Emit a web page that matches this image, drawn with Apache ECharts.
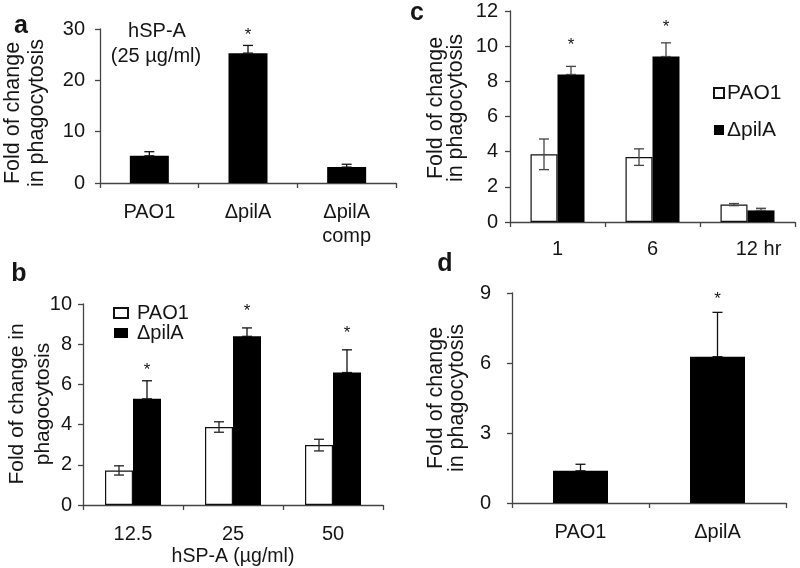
<!DOCTYPE html>
<html>
<head>
<meta charset="utf-8">
<script src="https://cdn.jsdelivr.net/npm/echarts@6/dist/echarts.min.js"></script>
<style>
  html, body { margin: 0; padding: 0; background: #fff; }
  #chart { width: 800px; height: 568px; }
</style>
</head>
<body>
<div id="chart"></div>
<script>
// ---------- data ----------
const catsA = ['PAO1', 'ΔpilA', 'ΔpilA\ncomp'];
const meanA = [5.3, 25.3, 3.1];
const errA = [0.8, 1.5, 0.55];
const starA = [null, 29.6, null];

const catsB = ['12.5', '25', '50'];
const pao1B = [1.72, 3.88, 2.98];
const pao1ErrB = [0.23, 0.26, 0.29];
const pilB = [5.28, 8.39, 6.59];
const pilErrB = [0.9, 0.42, 1.13];
const starB = [6.89, 9.82, 8.72];

const catsC = ['1', '6', '12 hr'];
const pao1C = [3.85, 3.69, 0.99];
const pao1ErrC = [0.87, 0.47, 0.06];
const pilC = [8.39, 9.41, 0.66];
const pilErrC = [0.46, 0.78, 0.12];
const starC = [10.3, 11.3, null];

const catsD = ['PAO1', 'ΔpilA'];
const meanD = [1.38, 6.27];
const errD = [0.28, 1.9];
const starD = [null, 8.88];

const ticksA = [0, 10, 20, 30];
const ticksB = [0, 2, 4, 6, 8, 10];
const ticksC = [0, 2, 4, 6, 8, 10, 12];
const ticksD = [0, 3, 6, 9];

// ---------- helpers ----------
const FONT = 'Liberation Sans, Arial, sans-serif';
const TXT = '#151515';
const AX = '#444';

function errData(mean, err, both) {
  return mean.map((m, i) => [i, both ? m - err[i] : m, m + err[i]]);
}
function starData(stars) {
  const out = [];
  stars.forEach((s, i) => { if (s != null) out.push([i, s]); });
  return out;
}
function errSeries(idx, data, offset, color) {
  return {
    type: 'custom', xAxisIndex: idx, yAxisIndex: idx, silent: true, z: 5,
    data: data,
    encode: { x: 0, y: [1, 2] },
    renderItem: function (params, api) {
      const c = api.value(0);
      const x = api.coord([c, 0])[0] + offset;
      const y1 = api.coord([c, api.value(1)])[1];
      const y2 = api.coord([c, api.value(2)])[1];
      const st = { stroke: color, lineWidth: 1.3 };
      const hw = 5;
      return {
        type: 'group', children: [
          { type: 'line', shape: { x1: x, y1: y1, x2: x, y2: y2 }, style: st },
          { type: 'line', shape: { x1: x - hw, y1: y2, x2: x + hw, y2: y2 }, style: st },
          { type: 'line', shape: { x1: x - hw, y1: y1, x2: x + hw, y2: y1 }, style: st }
        ]
      };
    }
  };
}
function starSeries(idx, data, offset) {
  return {
    type: 'custom', xAxisIndex: idx, yAxisIndex: idx, silent: true, z: 6,
    data: data,
    encode: { x: 0, y: 1 },
    renderItem: function (params, api) {
      const c = api.value(0);
      const p = api.coord([c, api.value(1)]);
      return {
        type: 'text', x: p[0] + offset, y: p[1] + 4,
        style: { text: '*', fontSize: 17, fontFamily: FONT, fill: TXT, align: 'center', verticalAlign: 'middle' }
      };
    }
  };
}
function yAx(idx, ticks, margin) {
  return {
    type: 'value', gridIndex: idx, min: ticks[0], max: ticks[ticks.length - 1],
    interval: ticks[1] - ticks[0],
    splitLine: { show: false },
    axisLine: { show: true, lineStyle: { color: AX, width: 1.3 } },
    axisTick: { show: true, length: 5, lineStyle: { color: AX, width: 1.3 } },
    axisLabel: { fontSize: 20, fontFamily: FONT, color: TXT, margin: margin }
  };
}
function xAx(idx, cats, extra) {
  return Object.assign({
    type: 'category', gridIndex: idx, data: cats,
    axisLine: { show: true, lineStyle: { color: AX, width: 1.3 } },
    axisTick: { show: true, length: 5, alignWithLabel: false, lineStyle: { color: AX, width: 1.3 } },
    axisLabel: { fontSize: 20, fontFamily: FONT, color: TXT, margin: 17, lineHeight: 24, interval: 0 }
  }, extra || {});
}

const WHITE = { color: '#fff', borderColor: '#111', borderWidth: 1.2 };
const BLACK = { color: '#000' };

const option = {
  animation: false,
  backgroundColor: '#fff',
  grid: [
    { left: 100, top: 29, width: 296, height: 154, outerBoundsMode: 'none' },
    { left: 83, top: 304, width: 300, height: 201, outerBoundsMode: 'none' },
    { left: 510, top: 11, width: 285, height: 211, outerBoundsMode: 'none' },
    { left: 512, top: 293, width: 274, height: 210, outerBoundsMode: 'none' }
  ],
  xAxis: [
    xAx(0, catsA),
    xAx(1, catsB, { name: 'hSP-A (µg/ml)', nameLocation: 'middle', nameGap: 41,
      nameTextStyle: { fontSize: 19.5, fontFamily: FONT, color: TXT } }),
    xAx(2, catsC, { axisLabel: { fontSize: 20, fontFamily: FONT, color: TXT, margin: 17, interval: 0,
      formatter: function (v) { return v === '12 hr' ? '{r|' + v + '}' : v; },
      rich: { r: { fontSize: 20, fontFamily: FONT, color: TXT, padding: [0, 0, 0, 22] } } } }),
    xAx(3, catsD)
  ],
  yAxis: [yAx(0, ticksA, 15), yAx(1, ticksB, 11), yAx(2, ticksC, 12), yAx(3, ticksD, 21)],
  legend: [
    {
      data: ['PAO1', 'ΔpilA'], orient: 'vertical', left: 108, top: 298, icon: 'rect',
      itemWidth: 14, itemHeight: 10, itemGap: 0,
      textStyle: { fontSize: 20, fontFamily: FONT, color: TXT, lineHeight: 20, padding: [0, 0, 0, 4] },
      selectedMode: false
    },
    {
      data: ['PAO1', 'ΔpilA'], orient: 'vertical', left: 708, top: 77, icon: 'rect',
      itemWidth: 10, itemHeight: 10, itemGap: 15,
      textStyle: { fontSize: 21, fontFamily: FONT, color: TXT, lineHeight: 22, padding: [0, 0, 0, -2] },
      selectedMode: false
    }
  ],
  series: [
    // panel a
    { type: 'bar', name: 'a', xAxisIndex: 0, yAxisIndex: 0, data: meanA, barWidth: 39, itemStyle: BLACK },
    errSeries(0, errData(meanA, errA, false), 0, '#111'),
    starSeries(0, starData(starA), 0),
    // panel b
    { type: 'bar', name: 'PAO1', xAxisIndex: 1, yAxisIndex: 1, data: pao1B, barWidth: 28, barGap: '0%', itemStyle: WHITE },
    { type: 'bar', name: 'ΔpilA', xAxisIndex: 1, yAxisIndex: 1, data: pilB, barWidth: 28, barGap: '0%', itemStyle: BLACK },
    errSeries(1, errData(pao1B, pao1ErrB, true), -14, '#222'),
    errSeries(1, errData(pilB, pilErrB, false), 14, '#111'),
    starSeries(1, starData(starB), 14),
    // panel c
    { type: 'bar', name: 'PAO1', xAxisIndex: 2, yAxisIndex: 2, data: pao1C, barWidth: 27, barGap: '0%', itemStyle: WHITE },
    { type: 'bar', name: 'ΔpilA', xAxisIndex: 2, yAxisIndex: 2, data: pilC, barWidth: 27, barGap: '0%', itemStyle: BLACK },
    errSeries(2, errData(pao1C, pao1ErrC, true), -13.5, '#444'),
    errSeries(2, errData(pilC, pilErrC, false), 13.5, '#444'),
    starSeries(2, starData(starC), 13.5),
    // panel d
    { type: 'bar', name: 'd', xAxisIndex: 3, yAxisIndex: 3, data: meanD, barWidth: 55, itemStyle: BLACK },
    errSeries(3, errData(meanD, errD, false), 0, '#111'),
    starSeries(3, starData(starD), 0)
  ],
  graphic: [
    { type: 'text', x: 21, y: 26, style: { text: 'a', fontSize: 25, fontWeight: 'bold', fontFamily: FONT, fill: TXT, align: 'center', verticalAlign: 'middle' } },
    { type: 'text', x: 19, y: 274, style: { text: 'b', fontSize: 25, fontWeight: 'bold', fontFamily: FONT, fill: TXT, align: 'center', verticalAlign: 'middle' } },
    { type: 'text', x: 417, y: 13, style: { text: 'c', fontSize: 25, fontWeight: 'bold', fontFamily: FONT, fill: TXT, align: 'center', verticalAlign: 'middle' } },
    { type: 'text', x: 445, y: 264, style: { text: 'd', fontSize: 25, fontWeight: 'bold', fontFamily: FONT, fill: TXT, align: 'center', verticalAlign: 'middle' } },
    { type: 'text', x: 157, y: 31, style: { text: 'hSP-A', fontSize: 20, fontFamily: FONT, fill: TXT, align: 'center', verticalAlign: 'middle' } },
    { type: 'text', x: 156, y: 56, style: { text: '(25 µg/ml)', fontSize: 20, fontFamily: FONT, fill: TXT, align: 'center', verticalAlign: 'middle' } },
    { type: 'text', x: 25, y: 113, rotation: Math.PI / 2, style: { text: 'Fold of change\nin phagocytosis', fontSize: 21.5, lineHeight: 24, fontFamily: FONT, fill: TXT, align: 'center', verticalAlign: 'middle' } },
    { type: 'text', x: 30, y: 404, rotation: Math.PI / 2, style: { text: 'Fold of change in\nphagocytosis', fontSize: 21, lineHeight: 26, fontFamily: FONT, fill: TXT, align: 'center', verticalAlign: 'middle' } },
    { type: 'text', x: 446, y: 108, rotation: Math.PI / 2, style: { text: 'Fold of change\nin phagocytosis', fontSize: 21.5, lineHeight: 20, fontFamily: FONT, fill: TXT, align: 'center', verticalAlign: 'middle' } },
    { type: 'text', x: 447, y: 398, rotation: Math.PI / 2, style: { text: 'Fold of change\nin phagocytosis', fontSize: 21.5, lineHeight: 21, fontFamily: FONT, fill: TXT, align: 'center', verticalAlign: 'middle' } }
  ]
};

const chart = echarts.init(document.getElementById('chart'), null, { renderer: 'canvas' });
chart.setOption(option);
</script>
</body>
</html>
